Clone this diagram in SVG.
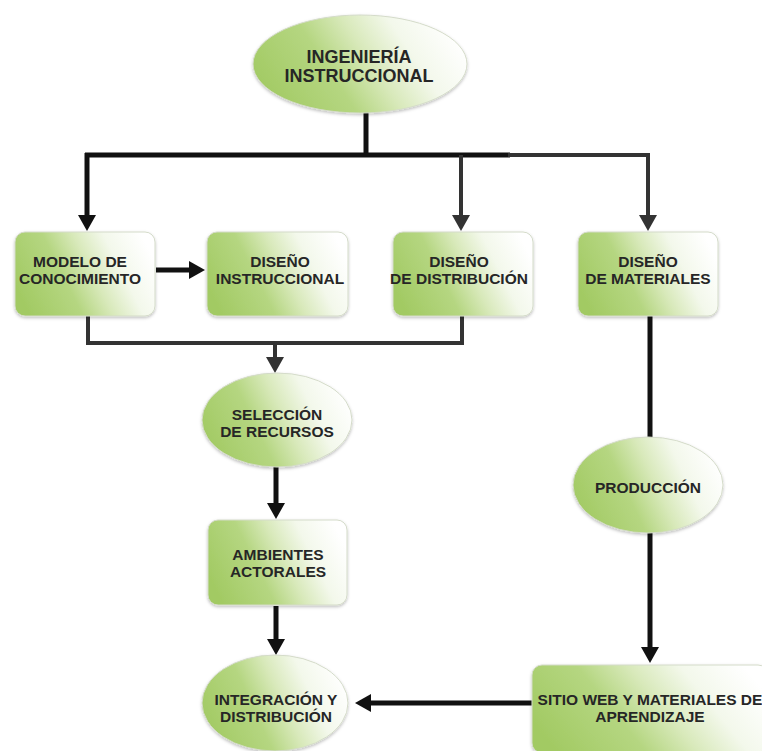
<svg xmlns="http://www.w3.org/2000/svg" width="762" height="751" viewBox="0 0 762 751">
<defs>
<linearGradient id="g" x1="0" y1="0.65" x2="1" y2="0.35">
<stop offset="0" stop-color="#a2ca63"/>
<stop offset="0.35" stop-color="#b5d681"/>
<stop offset="0.55" stop-color="#d8e9ba"/>
<stop offset="0.75" stop-color="#f3f8eb"/>
<stop offset="1" stop-color="#ffffff"/>
</linearGradient>
<filter id="sh" x="-10%" y="-10%" width="120%" height="125%">
<feDropShadow dx="0" dy="1.5" stdDeviation="1.5" flood-color="#000" flood-opacity="0.25"/>
</filter>
<marker id="ah" viewBox="0 0 16 18" refX="0" refY="9" markerWidth="16" markerHeight="18" markerUnits="userSpaceOnUse" orient="auto">
<path d="M0,0 L16,9 L0,18 Z" fill="#111"/>
</marker>
<marker id="ahg" viewBox="0 0 16 18" refX="0" refY="9" markerWidth="16" markerHeight="18" markerUnits="userSpaceOnUse" orient="auto">
<path d="M0,0 L16,9 L0,18 Z" fill="#333"/>
</marker>
<style>
.n{fill:url(#g);stroke:#d4dbc9;stroke-width:1;filter:url(#sh)}
.t{font-family:"Liberation Sans",Arial,sans-serif;font-weight:bold;font-size:15.5px;fill:#262626;text-anchor:middle}
.tt{font-size:18px}
.k{fill:none;stroke:#111;stroke-width:5}
.d{fill:none;stroke:#333;stroke-width:4}
.a{marker-end:url(#ah)}
.ag{marker-end:url(#ahg)}
</style>
</defs>
<rect width="762" height="751" fill="#ffffff"/>
<g id="connectors">
<line class="k" x1="366" y1="110" x2="366" y2="155"/>
<line class="k" x1="85" y1="155" x2="510" y2="155"/>
<line class="d" x1="508" y1="155" x2="650" y2="155"/>
<polyline class="k a" points="87,153 87,215"/>
<polyline class="d ag" points="461,155 461,215"/>
<polyline class="d ag" points="648,155 648,215"/>
<line class="k a" x1="156" y1="270" x2="189" y2="270"/>
<polyline class="d" points="88,316 88,343 462,343 462,316"/>
<line class="d ag" x1="275" y1="343" x2="275" y2="357"/>
<line class="k a" x1="276" y1="466" x2="276" y2="503"/>
<line class="k a" x1="276" y1="606" x2="276" y2="639"/>
<line class="k" x1="650" y1="316" x2="650" y2="438"/>
<line class="k a" x1="650" y1="532" x2="650" y2="647"/>
<line class="k a" x1="532" y1="703" x2="371" y2="703"/>
</g>
<g id="ingenieria">
<ellipse class="n" cx="360" cy="64" rx="107" ry="49"/>
<text class="t tt" x="359" y="63">INGENIERÍA</text>
<text class="t tt" x="359" y="82">INSTRUCCIONAL</text>
</g>
<g id="modelo">
<rect class="n" x="15" y="232" width="140" height="84" rx="10"/>
<text class="t" x="80" y="267">MODELO DE</text>
<text class="t" x="80" y="284">CONOCIMIENTO</text>
</g>
<g id="instruccional">
<rect class="n" x="207" y="232" width="141" height="84" rx="10"/>
<text class="t" x="280" y="267">DISEÑO</text>
<text class="t" x="280" y="284">INSTRUCCIONAL</text>
</g>
<g id="distribucion">
<rect class="n" x="393" y="232" width="140" height="84" rx="10"/>
<text class="t" x="459" y="267">DISEÑO</text>
<text class="t" x="459" y="284">DE DISTRIBUCIÓN</text>
</g>
<g id="materiales">
<rect class="n" x="578" y="232" width="140" height="84" rx="10"/>
<text class="t" x="648" y="267">DISEÑO</text>
<text class="t" x="648" y="284">DE MATERIALES</text>
</g>
<g id="seleccion">
<ellipse class="n" cx="277" cy="420" rx="75" ry="47"/>
<text class="t" x="277" y="420">SELECCIÓN</text>
<text class="t" x="277" y="437">DE RECURSOS</text>
</g>
<g id="ambientes">
<rect class="n" x="208" y="520" width="139" height="85" rx="10"/>
<text class="t" x="278" y="560">AMBIENTES</text>
<text class="t" x="278" y="577">ACTORALES</text>
</g>
<g id="produccion">
<ellipse class="n" cx="648" cy="485" rx="75" ry="48"/>
<text class="t" x="648" y="493">PRODUCCIÓN</text>
</g>
<g id="integracion">
<ellipse class="n" cx="275" cy="703" rx="73" ry="48"/>
<text class="t" x="276" y="705">INTEGRACIÓN Y</text>
<text class="t" x="276" y="722">DISTRIBUCIÓN</text>
</g>
<g id="sitio">
<rect class="n" x="532" y="665" width="236" height="88" rx="10"/>
<text class="t" x="650" y="705">SITIO WEB Y MATERIALES DE</text>
<text class="t" x="650" y="722">APRENDIZAJE</text>
</g>
</svg>
